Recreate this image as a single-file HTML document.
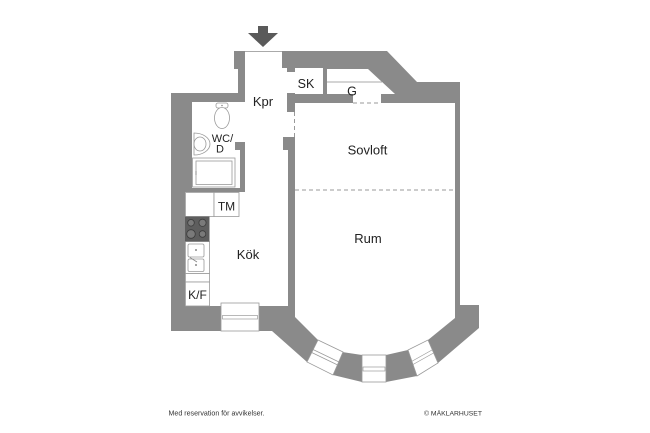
<!DOCTYPE html>
<html>
<head>
<meta charset="utf-8">
<style>
  html,body{margin:0;padding:0;background:#fff;}
  svg{display:block;}
  text{font-family:"Liberation Sans",sans-serif;fill:#222;}
</style>
</head>
<body>
<svg width="650" height="433" viewBox="0 0 650 433" xmlns="http://www.w3.org/2000/svg">
  <rect x="0" y="0" width="650" height="433" fill="#fff"/>

  <!-- entry arrow -->
  <rect x="258" y="26" width="10" height="8" fill="#5a5a5a"/>
  <polygon points="248,33 278,33 263,47" fill="#5a5a5a"/>

  <!-- outer wall mass -->
  <polygon fill="#8a8a8a" points="234,51 387,51 417,82 460,82 460,305 479,305 479,328 438,363 417,376 386,382 362,382 333,375 307,362 272,331 171,331 171,93 238,93 238,69 234,69"/>

  <!-- interior rooms (white) -->
  <g fill="#fff">
    <rect x="245" y="51" width="37" height="18"/>
    <rect x="245" y="68" width="43" height="124"/>
    <rect x="185" y="192" width="103" height="114"/>
    <rect x="192" y="102" width="48" height="86"/>
    <rect x="235" y="102" width="10" height="40"/>
    <rect x="287" y="68" width="36" height="26"/>
    <polygon points="327,69 368,69 395,94 327,94"/>
    <rect x="353" y="94" width="28" height="9.5"/>
    <polygon points="295,103 455,103 455,318 428,340 408,350 386,355 362,355 342,352 318,340 295,317"/>
    <rect x="287" y="112" width="9" height="25"/>
  </g>

  <!-- extra wall pieces / jambs -->
  <g fill="#8a8a8a">
    <rect x="287" y="68" width="8" height="4"/>
    <rect x="287" y="93" width="8" height="19"/>
    <rect x="295" y="94" width="58" height="9"/>
    <rect x="283" y="137" width="12" height="13"/>
    <rect x="288" y="150" width="7" height="160"/>
    <rect x="235" y="142" width="10" height="8"/>
    <rect x="240" y="150" width="5" height="42"/>
  </g>

  <!-- thresholds / dashed lines -->
  <line x1="245" y1="51.5" x2="282" y2="51.5" stroke="#aaa" stroke-width="1"/>
  <line x1="294.5" y1="112" x2="294.5" y2="137" stroke="#999" stroke-width="1" stroke-dasharray="4 3"/>
  <line x1="353" y1="103" x2="381" y2="103" stroke="#999" stroke-width="1" stroke-dasharray="4 3"/>
  <line x1="295" y1="190" x2="455" y2="190" stroke="#999" stroke-width="1" stroke-dasharray="4 3"/>
  <line x1="327" y1="82" x2="382" y2="82" stroke="#aaa" stroke-width="1"/>

  <!-- kitchen window -->
  <rect x="221" y="303" width="38" height="28" fill="#fff" stroke="#9a9a9a" stroke-width="0.8"/>
  <rect x="222.5" y="315.5" width="35" height="3.5" fill="#fff" stroke="#9a9a9a" stroke-width="0.7"/>

  <!-- bay windows -->
  <polygon points="318,340 343,352 333,375 307,362" fill="#fff" stroke="#9a9a9a" stroke-width="0.8"/>
  <line x1="313" y1="349.5" x2="339" y2="362" stroke="#9a9a9a" stroke-width="0.7"/>
  <line x1="311.7" y1="352.5" x2="337.7" y2="365" stroke="#9a9a9a" stroke-width="0.7"/>
  <rect x="362" y="355" width="24" height="27" fill="#fff" stroke="#9a9a9a" stroke-width="0.8"/>
  <rect x="363" y="367" width="22" height="4" fill="#fff" stroke="#9a9a9a" stroke-width="0.7"/>
  <polygon points="408,350 428,340 438,363 417,376" fill="#fff" stroke="#9a9a9a" stroke-width="0.8"/>
  <line x1="411.5" y1="361.5" x2="432" y2="350" stroke="#9a9a9a" stroke-width="0.7"/>
  <line x1="413" y1="364.5" x2="433.5" y2="353" stroke="#9a9a9a" stroke-width="0.7"/>

  <!-- bathroom fixtures -->
  <g fill="#fff" stroke="#9a9a9a" stroke-width="0.8">
    <rect x="216" y="103" width="12" height="5" rx="2"/>
    <ellipse cx="222" cy="118" rx="7.5" ry="10.5"/>
    <path d="M194,133 A16,11 0 0 1 194,155 Z"/>
    <ellipse cx="200" cy="144" rx="6" ry="7"/>
    <rect x="192.5" y="158" width="42.5" height="29"/>
    <rect x="196" y="161" width="36" height="23.5"/>
  </g>
  <circle cx="222" cy="105.5" r="0.8" fill="#888"/>
  <line x1="196" y1="171" x2="196" y2="175" stroke="#888" stroke-width="1"/>

  <!-- kitchen fixtures -->
  <g fill="#fff" stroke="#9a9a9a" stroke-width="0.8">
    <rect x="185.5" y="192.5" width="28.5" height="24"/>
    <rect x="214" y="192.5" width="25" height="24"/>
    <rect x="185.5" y="241.5" width="24" height="32"/>
    <rect x="188" y="244" width="16" height="13" rx="1.5"/>
    <rect x="188" y="259" width="16" height="12.5" rx="1.5"/>
    <rect x="185.5" y="273.5" width="24" height="8.5"/>
    <rect x="185.5" y="282" width="24" height="24"/>
  </g>
  <rect x="185" y="216.5" width="24.5" height="25" fill="#5e5e5e"/>
  <g fill="#7a7a7a" stroke="#3c3c3c" stroke-width="0.8">
    <circle cx="191" cy="222.8" r="3.3"/>
    <circle cx="202.5" cy="222.8" r="3.6"/>
    <circle cx="191" cy="234" r="4.3"/>
    <circle cx="202.5" cy="234" r="3.3"/>
  </g>
  <circle cx="196" cy="250" r="1" fill="#888"/>
  <circle cx="196" cy="265" r="1" fill="#888"/>
  <line x1="190" y1="257.5" x2="197" y2="262" stroke="#888" stroke-width="0.8"/>

  <!-- labels -->
  <text x="263" y="106" font-size="13" text-anchor="middle">Kpr</text>
  <text x="306" y="88" font-size="12.5" text-anchor="middle">SK</text>
  <text x="352" y="95.5" font-size="12.5" text-anchor="middle">G</text>
  <text x="367.5" y="154.5" font-size="13" text-anchor="middle">Sovloft</text>
  <text x="368" y="243" font-size="13" text-anchor="middle">Rum</text>
  <text x="248" y="259" font-size="13" text-anchor="middle">Kök</text>
  <text x="226.5" y="210.5" font-size="12" text-anchor="middle">TM</text>
  <text x="197.5" y="299" font-size="12" text-anchor="middle">K/F</text>
  <text x="222.5" y="142" font-size="11" text-anchor="middle">WC/</text>
  <text x="220" y="152.5" font-size="11" text-anchor="middle">D</text>

  <!-- footer -->
  <text x="168.5" y="415.5" font-size="7" textLength="96" lengthAdjust="spacingAndGlyphs" style="fill:#333">Med reservation för avvikelser.</text>
  <text x="424" y="415.5" font-size="6.6" textLength="58" lengthAdjust="spacingAndGlyphs" style="fill:#333">© MÄKLARHUSET</text>
</svg>
</body>
</html>
